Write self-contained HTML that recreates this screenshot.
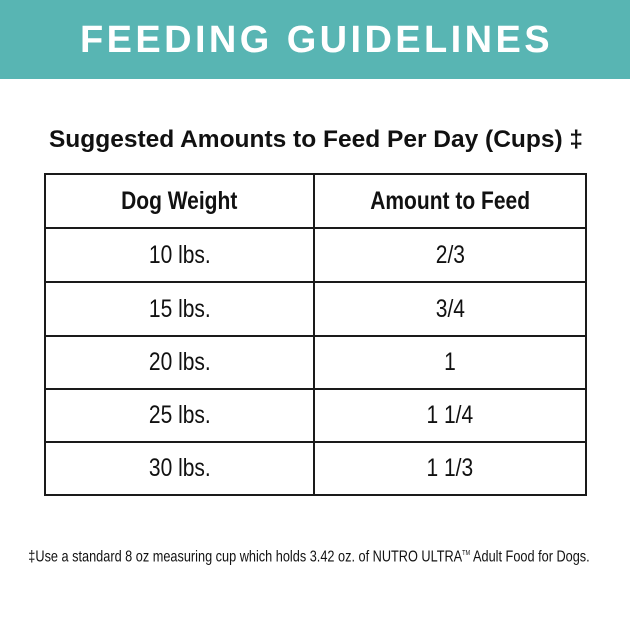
<!DOCTYPE html>
<html><head><meta charset="utf-8"><style>
*{margin:0;padding:0;box-sizing:border-box}
body{width:630px;height:630px;background:#fff;position:relative;overflow:hidden;font-family:"Liberation Sans",sans-serif;color:#111}
.band{position:absolute;left:0;top:0;width:630px;height:79px;background:#58b5b3}
.title{position:absolute;left:0;width:630px;top:19px;text-align:center;color:#fff;font-weight:bold;font-size:38px;letter-spacing:3.4px;line-height:42px;padding-left:3px}
.sub{position:absolute;left:0;width:630px;top:125px;text-align:center;font-weight:bold;font-size:24.5px;line-height:30px;padding-left:2px}
.c{position:absolute;display:flex;align-items:center;justify-content:center;font-size:25px}
.c span{display:inline-block;transform:scaleX(0.84);white-space:nowrap}
.h span{font-weight:bold}
.ln{position:absolute;background:#1a1a1a}
.foot{position:absolute;left:309px;top:544px;font-size:16px;line-height:20px;white-space:nowrap;transform:translateX(-50%) scaleX(0.795)}
</style></head><body>
<div class="band"></div>
<div class="title">FEEDING GUIDELINES</div>
<div class="sub">Suggested Amounts to Feed Per Day (Cups) ‡</div>

<div class="ln" style="left:44px;top:173px;width:543px;height:2px"></div>
<div class="ln" style="left:44px;top:227px;width:543px;height:2px"></div>
<div class="ln" style="left:44px;top:281px;width:543px;height:2px"></div>
<div class="ln" style="left:44px;top:335px;width:543px;height:2px"></div>
<div class="ln" style="left:44px;top:388px;width:543px;height:2px"></div>
<div class="ln" style="left:44px;top:441px;width:543px;height:2px"></div>
<div class="ln" style="left:44px;top:494px;width:543px;height:2px"></div>
<div class="ln" style="left:44px;top:173px;width:2px;height:323px"></div>
<div class="ln" style="left:313px;top:173px;width:2px;height:323px"></div>
<div class="ln" style="left:585px;top:173px;width:2px;height:323px"></div>

<div class="c h" style="left:46px;top:175px;width:267px;height:52px"><span>Dog Weight</span></div>
<div class="c h" style="left:315px;top:175px;width:270px;height:52px"><span>Amount to Feed</span></div>

<div class="c" style="left:46px;top:229px;width:267px;height:52px"><span>10 lbs.</span></div>
<div class="c" style="left:315px;top:229px;width:270px;height:52px"><span>2/3</span></div>
<div class="c" style="left:46px;top:283px;width:267px;height:52px"><span>15 lbs.</span></div>
<div class="c" style="left:315px;top:283px;width:270px;height:52px"><span>3/4</span></div>
<div class="c" style="left:46px;top:337px;width:267px;height:51px"><span>20 lbs.</span></div>
<div class="c" style="left:315px;top:337px;width:270px;height:51px"><span>1</span></div>
<div class="c" style="left:46px;top:390px;width:267px;height:51px"><span>25 lbs.</span></div>
<div class="c" style="left:315px;top:390px;width:270px;height:51px"><span>1 1/4</span></div>
<div class="c" style="left:46px;top:443px;width:267px;height:51px"><span>30 lbs.</span></div>
<div class="c" style="left:315px;top:443px;width:270px;height:51px"><span>1 1/3</span></div>

<div class="foot">‡Use a standard 8 oz measuring cup which holds 3.42 oz. of NUTRO ULTRA<sup style="font-size:7px">TM</sup> Adult Food for Dogs.</div>
</body></html>
